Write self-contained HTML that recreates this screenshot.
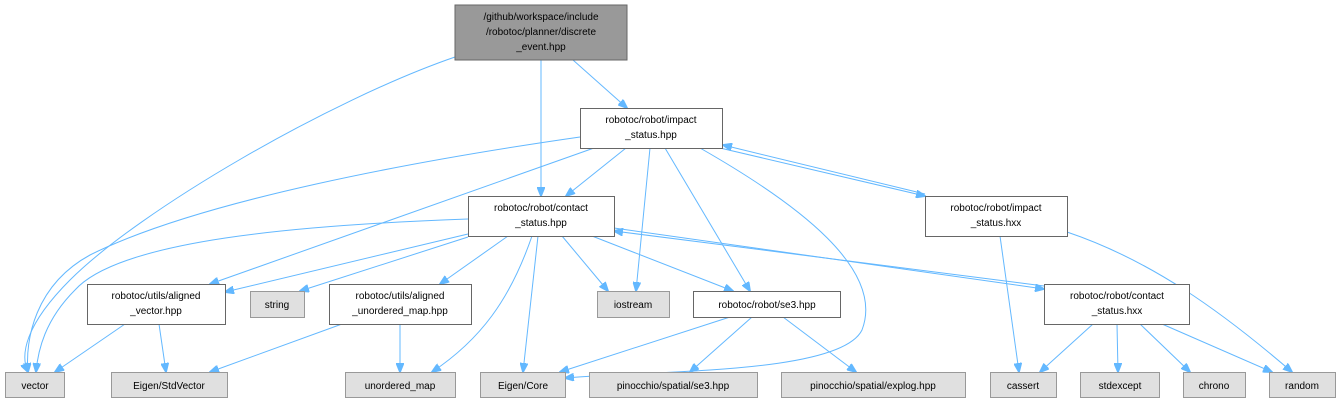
<!DOCTYPE html>
<html><head><meta charset="utf-8"><style>
html,body{margin:0;padding:0;background:#fff;}
svg{display:block;}
text{font-family:"Liberation Sans",sans-serif;font-size:10px;fill:#000;}
.e{fill:none;stroke:#63b8ff;stroke-width:1;}
.w{fill:#fff;stroke:#666;stroke-width:1;}
.g{fill:#e0e0e0;stroke:#999;stroke-width:1;}
</style></head><body>
<svg width="1339" height="403" viewBox="0 0 1339 403">
<defs><marker id="a" markerWidth="10" markerHeight="8" refX="9" refY="4" orient="auto" markerUnits="userSpaceOnUse"><path d="M0,0 L10,4 L0,8 Z" fill="#63b8ff" stroke="#63b8ff"/></marker></defs>
<g marker-end="url(#a)">
<path class="e" d="M455,57 C330,100 140,210 70,280 C25,325 20,355 28,372"/>
<path class="e" d="M541,60 L541,196"/>
<path class="e" d="M573,60 L627,108"/>
<path class="e" d="M580,137 C420,160 200,200 90,255 C35,285 25,340 28,372"/>
<path class="e" d="M594,148 L210,284"/>
<path class="e" d="M626,148 L566,196"/>
<path class="e" d="M650,148 L636,291"/>
<path class="e" d="M665,148 L750,291"/>
<path class="e" d="M700,148 C800,205 885,270 862,330 C840,375 650,370 565,378"/>
<path class="e" d="M720,148 L925,196"/>
<path class="e" d="M925,194 L723,145"/>
<path class="e" d="M468,219 C300,225 120,240 75,290 C45,320 38,350 36,372"/>
<path class="e" d="M468,234 L225,292"/>
<path class="e" d="M468,237 L300,291"/>
<path class="e" d="M508,236 L440,284"/>
<path class="e" d="M532,236 C510,300 480,340 432,372"/>
<path class="e" d="M538,236 L523,372"/>
<path class="e" d="M562,236 L608,291"/>
<path class="e" d="M592,236 L733,291"/>
<path class="e" d="M614,228 L1044,289"/>
<path class="e" d="M1044,286 L614,231"/>
<path class="e" d="M1000,236 L1019,372"/>
<path class="e" d="M1067,232 C1150,260 1220,310 1292,372"/>
<path class="e" d="M1093,324 L1040,372"/>
<path class="e" d="M1117,324 L1118,372"/>
<path class="e" d="M1140,324 L1190,372"/>
<path class="e" d="M1162,324 L1272,372"/>
<path class="e" d="M125,324 L55,372"/>
<path class="e" d="M159,324 L166,372"/>
<path class="e" d="M342,324 L210,372"/>
<path class="e" d="M400,324 L400,372"/>
<path class="e" d="M730,317 L560,372"/>
<path class="e" d="M752,317 L690,372"/>
<path class="e" d="M783,317 L856,372"/>
</g>
<rect x="455" y="5" width="172" height="55" fill="#999" stroke="#666"/>
<text x="541" y="20" text-anchor="middle">/github/workspace/include</text>
<text x="541" y="35" text-anchor="middle">/robotoc/planner/discrete</text>
<text x="541" y="50" text-anchor="middle">_event.hpp</text>
<rect class="w" x="580.5" y="108.5" width="142" height="40"/>
<text x="651" y="123" text-anchor="middle">robotoc/robot/impact</text>
<text x="651" y="138" text-anchor="middle">_status.hpp</text>
<rect class="w" x="468.5" y="196.5" width="146" height="40"/>
<text x="541" y="211" text-anchor="middle">robotoc/robot/contact</text>
<text x="541" y="226" text-anchor="middle">_status.hpp</text>
<rect class="w" x="925.5" y="196.5" width="142" height="40"/>
<text x="996" y="211" text-anchor="middle">robotoc/robot/impact</text>
<text x="996" y="226" text-anchor="middle">_status.hxx</text>
<rect class="w" x="87.5" y="284.5" width="138" height="40"/>
<text x="156" y="299" text-anchor="middle">robotoc/utils/aligned</text>
<text x="156" y="314" text-anchor="middle">_vector.hpp</text>
<rect class="g" x="250.5" y="291.5" width="54" height="26"/>
<text x="277" y="308" text-anchor="middle">string</text>
<rect class="w" x="329.5" y="284.5" width="142" height="40"/>
<text x="400" y="299" text-anchor="middle">robotoc/utils/aligned</text>
<text x="400" y="314" text-anchor="middle">_unordered_map.hpp</text>
<rect class="g" x="597.5" y="291.5" width="72" height="26"/>
<text x="633" y="308" text-anchor="middle">iostream</text>
<rect class="w" x="693.5" y="291.5" width="147" height="26"/>
<text x="767" y="308" text-anchor="middle">robotoc/robot/se3.hpp</text>
<rect class="w" x="1044.5" y="284.5" width="145" height="40"/>
<text x="1117" y="299" text-anchor="middle">robotoc/robot/contact</text>
<text x="1117" y="314" text-anchor="middle">_status.hxx</text>
<rect class="g" x="5.5" y="372.5" width="59" height="25"/><text x="35" y="389" text-anchor="middle">vector</text>
<rect class="g" x="111.5" y="372.5" width="116" height="25"/><text x="169" y="389" text-anchor="middle">Eigen/StdVector</text>
<rect class="g" x="345.5" y="372.5" width="110" height="25"/><text x="400" y="389" text-anchor="middle">unordered_map</text>
<rect class="g" x="480.5" y="372.5" width="85" height="25"/><text x="523" y="389" text-anchor="middle">Eigen/Core</text>
<rect class="g" x="589.5" y="372.5" width="168" height="25"/><text x="673" y="389" text-anchor="middle">pinocchio/spatial/se3.hpp</text>
<rect class="g" x="781.5" y="372.5" width="184" height="25"/><text x="873" y="389" text-anchor="middle">pinocchio/spatial/explog.hpp</text>
<rect class="g" x="990.5" y="372.5" width="66" height="25"/><text x="1023" y="389" text-anchor="middle">cassert</text>
<rect class="g" x="1080.5" y="372.5" width="79" height="25"/><text x="1120" y="389" text-anchor="middle">stdexcept</text>
<rect class="g" x="1183.5" y="372.5" width="62" height="25"/><text x="1214" y="389" text-anchor="middle">chrono</text>
<rect class="g" x="1269.5" y="372.5" width="66" height="25"/><text x="1302" y="389" text-anchor="middle">random</text>
</svg>
</body></html>
